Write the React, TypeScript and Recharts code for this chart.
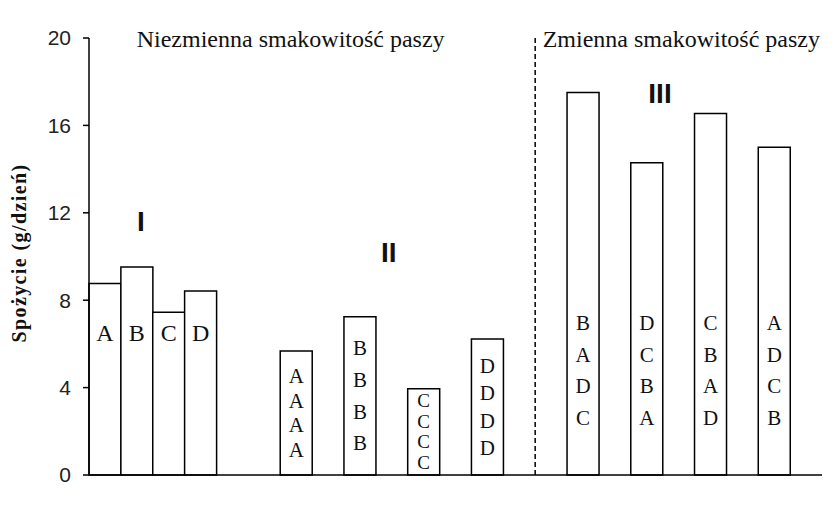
import { BarChart, Bar, XAxis, YAxis, ReferenceLine, LabelList } from 'recharts'

// one slot per bar width; empty slots make the gaps between groups
const slots = [
  'I-A', 'I-B', 'I-C', 'I-D', 's4', 's5',
  'II-A', 's7', 'II-B', 's9', 'II-C', 's11', 'II-D', 's13', 's14',
  'III-1', 's16', 'III-2', 's18', 'III-3', 's20', 'III-4', 's22',
]
const groups = [
  'I', 'I', 'I', 'I', '', '',
  'II', '', 'II', '', 'II', '', 'II', '', '',
  'III', '', 'III', '', 'III', '', 'III', '',
]
const intake = [
  8.76, 9.52, 7.45, 8.42, null, null,
  5.67, null, 7.24, null, 3.95, null, 6.22, null, null,
  17.51, null, 14.29, null, 16.55, null, 15.0, null,
]
const letters: string[][] = [
  ['A'], ['B'], ['C'], ['D'], [], [],
  ['A', 'A', 'A', 'A'], [], ['B', 'B', 'B', 'B'], [], ['C', 'C', 'C', 'C'], [], ['D', 'D', 'D', 'D'], [], [],
  ['B', 'A', 'D', 'C'], [], ['D', 'C', 'B', 'A'], [], ['C', 'B', 'A', 'D'], [], ['A', 'D', 'C', 'B'], [],
]
const yTicks = [0, 4, 8, 12, 16, 20]

const data = slots.map((slot, i) => ({ slot, intake: intake[i] }))

const serif = '"Liberation Serif", "Times New Roman", serif'
const sans = '"Liberation Sans", Arial, sans-serif'

const BarLetters = (props: any) => {
  const { x, y, width, height, value } = props
  const i = slots.indexOf(value)
  const list = letters[i]
  if (!list || !list.length || x == null || !height) return null
  const cx = x + width / 2
  const bottom = y + height
  const group = groups[i]
  let centers: number[]
  let size = 21
  if (group === 'I') {
    centers = [bottom - 142]
    size = 24
  } else if (group === 'II') {
    const step = Math.max(height / 5, 20.5)
    const mid = y + height / 2
    centers = list.map((_, k) => mid + (k - 1.5) * step)
    if (height / 5 < 20) size = 19
  } else {
    centers = list.map((_, k) => bottom - 152 + k * 31.7)
  }
  return (
    <g>
      {list.map((l, k) => (
        <text
          key={k}
          x={cx}
          y={centers[k] + size * 0.33}
          textAnchor='middle'
          fontFamily={serif}
          fontSize={size}
          fill='#111'
        >
          {l}
        </text>
      ))}
    </g>
  )
}

export default function App() {
  return (
    <div style={{ position: 'absolute', left: 0, top: 0, width: 836, height: 512, background: '#fff' }}>
      <BarChart
        width={836}
        height={512}
        data={data}
        margin={{ top: 38, right: 14, bottom: 36, left: 0 }}
        barCategoryGap={0}
        barGap={0}
      >
        <XAxis
          dataKey='slot'
          tick={false}
          tickLine={false}
          height={1}
          stroke='#000'
          strokeWidth={1.5}
        />
        <YAxis
          domain={[0, 20]}
          ticks={yTicks}
          width={89}
          tickSize={6}
          tickMargin={12}
          stroke='#000'
          strokeWidth={1.5}
          tick={{ fontFamily: sans, fontSize: 21, fill: '#222' }}
        />
        <ReferenceLine
          x='s14'
          position='start'
          stroke='#000'
          strokeWidth={1.5}
          strokeDasharray='5 3'
        />
        <Bar
          dataKey='intake'
          fill='#fff'
          stroke='#000'
          strokeWidth={1.5}
          isAnimationActive={false}
        >
          <LabelList dataKey='slot' content={BarLetters} />
        </Bar>
      </BarChart>
      <svg
        width={836}
        height={512}
        style={{ position: 'absolute', left: 0, top: 0, pointerEvents: 'none' }}
      >
        <text x={136.7} y={47.3} fontFamily={serif} fontSize={24} fill='#111'>
          Niezmienna smakowitość paszy
        </text>
        <text x={542.7} y={47} fontFamily={serif} fontSize={24} fill='#111'>
          Zmienna smakowitość paszy
        </text>
        <text x={140.8} y={230.7} textAnchor='middle' fontFamily={sans} fontWeight='bold' fontSize={28} fill='#111'>
          I
        </text>
        <text x={388.8} y={262.3} textAnchor='middle' fontFamily={sans} fontWeight='bold' fontSize={28} fill='#111'>
          II
        </text>
        <text x={660} y={103.3} textAnchor='middle' fontFamily={sans} fontWeight='bold' fontSize={28} fill='#111'>
          III
        </text>
        <text
          transform='translate(26,253) rotate(-90)'
          textAnchor='middle'
          fontFamily={serif}
          fontWeight='bold'
          fontSize={20}
          letterSpacing={1.4}
          fill='#111'
        >
          Spożycie (g/dzień)
        </text>
      </svg>
    </div>
  )
}
